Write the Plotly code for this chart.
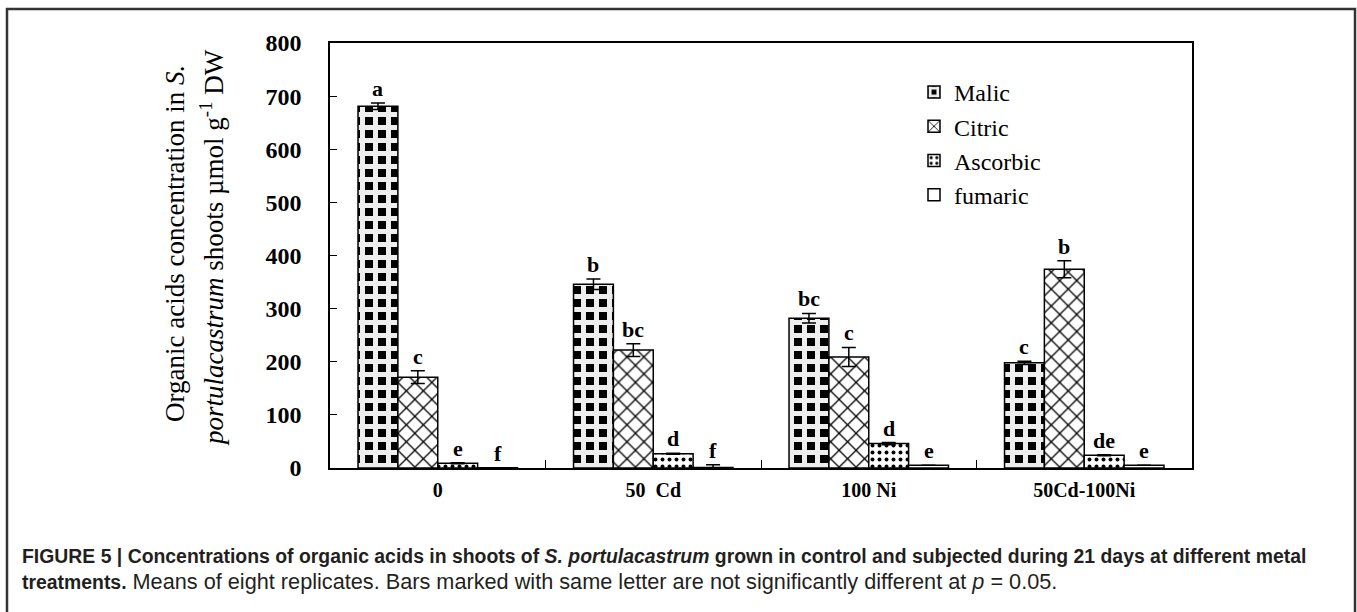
import plotly.graph_objects as go

categories = ["0", "50  Cd", "100 Ni", "50Cd-100Ni"]
series = ["Malic", "Citric", "Ascorbic", "fumaric"]

malic = [681, 346, 282, 198]
citric = [171, 222, 209, 374]
ascorbic = [9, 27, 46, 24]
fumaric = [0.5, 1, 5, 5]

malic_err = [6, 10, 9, 3]
citric_err = [12, 12, 18, 16]
ascorbic_err = [1, 1, 2, 1]
fumaric_err = [0, 5, 0, 0]

malic_letters = ["a", "b", "bc", "c"]
citric_letters = ["c", "bc", "c", "b"]
ascorbic_letters = ["e", "d", "d", "de"]
fumaric_letters = ["f", "f", "e", "e"]

y_ticks = [0, 100, 200, 300, 400, 500, 600, 700, 800]

SERIF = "Liberation Serif, Times New Roman, serif"
SANS = "Liberation Sans, Arial, sans-serif"

values = [malic, citric, ascorbic, fumaric]
errors = [malic_err, citric_err, ascorbic_err, fumaric_err]
letters = [malic_letters, citric_letters, ascorbic_letters, fumaric_letters]

patterns = [
    dict(shape="+", fgcolor="#eeeeee", bgcolor="black", size=13, solidity=0.62, fillmode="replace"),
    dict(shape="x", fgcolor="black", bgcolor="white", size=12, solidity=0.2, fillmode="replace"),
    dict(shape=".", fgcolor="black", bgcolor="white", size=7, solidity=0.25, fillmode="replace"),
    dict(shape="", fgcolor="black", bgcolor="white"),
]

fig = go.Figure()
for i, name in enumerate(series):
    fig.add_trace(go.Bar(
        name=name,
        x=categories,
        y=values[i],
        legendgroup=name,
        marker=dict(color="white", line=dict(color="black", width=1.5), pattern=patterns[i]),
        error_y=dict(type="data", array=errors[i], visible=True, color="black", thickness=1.5, width=7),
        offsetgroup=str(i),
    ))

# significance letters
n = len(series)
ann = []
for i in range(n):
    for j, cat in enumerate(categories):
        top = values[i][j] + errors[i][j]
        ann.append(dict(
            x=j + (i - (n - 1) / 2) * 0.185, y=top, xref="x", yref="y",
            text=letters[i][j], showarrow=False, yanchor="bottom", yshift=0,
            font=dict(family=SERIF, size=22, color="black", weight="bold"),
        ))

L, R, T, B = 330, 165, 43, 144
PW, PH = 1357 - L - R, 612 - T - B


def px_x(p):
    return (p - L) / PW


def px_y(p):
    return (612 - B - p) / PH


# y-axis title (two lines, rotated)
ann.append(dict(
    x=px_x(175), y=px_y(244), xref="paper", yref="paper", textangle=-90, showarrow=False,
    text="Organic acids concentration in <i>S.</i>",
    font=dict(family=SERIF, size=27, color="black"),
    xanchor="center", yanchor="middle",
))
ann.append(dict(
    x=px_x(212), y=px_y(248), xref="paper", yref="paper", textangle=-90, showarrow=False,
    text="<i>portulacastrum</i> shoots µmol g<sup>-1</sup> DW",
    font=dict(family=SERIF, size=27, color="black"),
    xanchor="center", yanchor="middle",
))

# caption
ann.append(dict(
    x=px_x(20), y=px_y(556), xref="paper", yref="paper", showarrow=False,
    text="<b>FIGURE 5 | Concentrations of organic acids in shoots of <i>S. portulacastrum</i> grown in control and subjected during 21 days at different metal</b>",
    font=dict(family=SANS, size=19.4, color="#231f20"), xanchor="left", yanchor="middle",
))
ann.append(dict(
    x=px_x(20), y=px_y(581), xref="paper", yref="paper", showarrow=False,
    text="<b>treatments.</b><span style=\"font-size:21.7px\"> Means of eight replicates. Bars marked with same letter are not significantly different at <i>p</i> = 0.05.</span>",
    font=dict(family=SANS, size=19.4, color="#231f20"), xanchor="left", yanchor="middle",
))

fig.update_layout(
    width=1357, height=612,
    margin=dict(l=L, r=R, t=T, b=B),
    paper_bgcolor="white", plot_bgcolor="white",
    barmode="group", bargap=0.26, bargroupgap=0,
    annotations=ann,
    showlegend=True,
    legend=dict(
        x=px_x(914), y=px_y(70), xanchor="left", yanchor="top",
        font=dict(family=SERIF, size=24, color="black"),
        bgcolor="rgba(0,0,0,0)", borderwidth=0,
        traceorder="normal", tracegroupgap=0, itemwidth=30,
    ),
    shapes=[dict(
        type="rect", xref="paper", yref="paper",
        x0=px_x(7), x1=px_x(1355), y0=px_y(630), y1=px_y(9),
        line=dict(color="#333333", width=2.5), fillcolor="rgba(0,0,0,0)", layer="below",
    )],
)

fig.update_xaxes(
    type="category", showline=True, mirror=True, linecolor="black", linewidth=1.5,
    ticks="inside", tickson="boundaries", ticklen=8, tickcolor="black", tickwidth=1.2,
    tickfont=dict(family=SERIF, size=20, color="black", weight="bold"),
    ticklabelstandoff=3, showgrid=False, zeroline=False,
)
fig.update_yaxes(
    range=[0, 800], tickvals=y_ticks, ticktext=[str(v) for v in y_ticks],
    showline=True, mirror=True, linecolor="black", linewidth=1.5,
    ticks="inside", ticklen=7, tickcolor="black", tickwidth=1.2,
    tickfont=dict(family=SERIF, size=24, color="black", weight="bold"),
    ticklabelstandoff=22, showgrid=False, zeroline=False,
)

fig.write_html("out.html", config={"displayModeBar": False},
               post_script="document.body.style.margin='0';")
